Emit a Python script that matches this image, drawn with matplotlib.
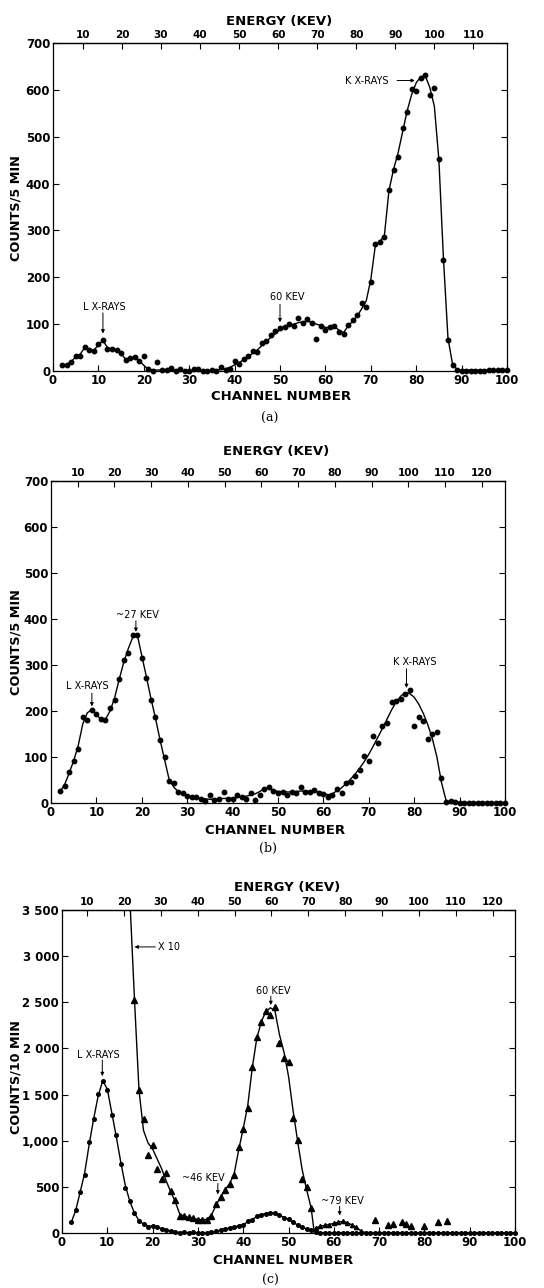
import matplotlib
matplotlib.use("Agg")
import matplotlib.pyplot as plt

plt.rcParams['font.family'] = ['DejaVu Sans']

# ---------------- data: panel (a) ----------------
channels_a = list(range(2, 101))
counts_a = [13, 13, 20, 32, 33, 52, 44, 43, 58, 66,
            46, 46, 45, 38, 23, 28, 30, 22, 31, 5,
            0, 20, 2, 3, 6, 0, 4, 0, 0, 5,
            4, 1, 1, 3, 0, 9, 3, 5, 21, 14,
            25, 33, 42, 40, 60, 63, 76, 85, 92, 94,
            101, 97, 113, 102, 111, 102, 68, 95, 88, 93,
            97, 84, 80, 98, 108, 120, 145, 136, 190, 271,
            275, 287, 387, 429, 456, 518, 553, 602, 597, 625,
            632, 590, 603, 452, 236, 66, 12, 2, 1, 1,
            1, 1, 1, 1, 2, 2, 2, 2, 2]
curve_a = [12, 14, 20, 30, 36, 50, 45, 44, 56, 65,
           50, 46, 45, 37, 25, 28, 29, 22, 12, 4,
           2, 2, 2, 2, 2, 2, 1, 0, 0, 0,
           1, 1, 1, 1, 2, 3, 5, 8, 13, 18,
           24, 31, 38, 45, 54, 63, 72, 80, 88, 93,
           97, 100, 103, 105, 106, 104, 100, 97, 93, 93,
           95, 87, 82, 96, 106, 117, 133, 150, 195, 268,
           276, 290, 385, 430, 465, 510, 555, 590, 615, 628,
           630, 605, 565, 450, 240, 70, 15, 3, 2, 2,
           2, 2, 2, 2, 2, 2, 2, 2, 2]

# ---------------- data: panel (b) ----------------
channels_b = list(range(2, 101))
counts_b = [26, 38, 67, 91, 117, 188, 180, 203, 193, 182,
            181, 207, 225, 270, 310, 326, 365, 366, 316, 272,
            225, 186, 136, 100, 48, 44, 24, 22, 16, 13,
            12, 9, 5, 17, 6, 9, 24, 8, 8, 18,
            14, 9, 22, 6, 18, 30, 35, 27, 22, 25,
            18, 25, 22, 35, 25, 23, 29, 22, 20, 14,
            18, 30, 22, 43, 45, 58, 71, 103, 91, 146,
            130, 167, 174, 219, 221, 226, 236, 245, 167, 186,
            178, 139, 150, 154, 54, 3, 4, 2, 1, 1,
            1, 0, 0, 1, 1, 0, 0, 0, 0]
curve_b = [25, 40, 65, 92, 125, 172, 196, 203, 192, 182,
           182, 200, 228, 268, 305, 335, 360, 366, 320, 275,
           228, 185, 138, 95, 52, 35, 25, 20, 16, 14,
           12, 10, 9, 8, 8, 9, 10, 10, 11, 12,
           13, 15, 17, 20, 25, 32, 33, 28, 25, 25,
           24, 24, 25, 26, 26, 26, 25, 24, 22, 18,
           20, 27, 33, 42, 52, 63, 76, 90, 106, 124,
           143, 162, 182, 202, 219, 232, 240, 238, 230, 215,
           195, 170, 140, 100, 45, 6, 2, 2, 1, 1,
           1, 1, 1, 1, 1, 1, 1, 1, 1]

# ---------------- data: panel (c) ----------------
channels_c = list(range(2, 101))
counts_c = [120, 245, 445, 630, 985, 1230, 1508, 1650, 1550, 1275,
            1058, 748, 490, 345, 222, 130, 93, 68, 75, 68,
            38, 30, 18, 10, 4, 6, 4, 6, 3, 4,
            2, 8, 18, 36, 47, 55, 65, 73, 91, 127,
            145, 182, 200, 211, 218, 215, 193, 164, 156, 116,
            84, 62, 47, 29, 7, 3, 2, 4, 2, 3,
            2, 3, 4, 2, 3, 1, 2, 2, 3, 2,
            2, 1, 2, 3, 2, 3, 2, 2, 2, 2,
            2, 2, 3, 2, 2, 2, 2, 2, 2, 2,
            2, 2, 2, 2, 2, 2, 2, 3, 3]
curve_c = [110, 240, 440, 650, 960, 1240, 1490, 1650, 1560, 1300,
           1040, 760, 510, 340, 215, 135, 95, 78, 72, 66,
           48, 32, 20, 11, 6, 4, 3, 3, 3, 3,
           4, 8, 16, 32, 45, 55, 65, 76, 93, 120,
           148, 178, 200, 212, 218, 212, 195, 168, 150, 118,
           86, 62, 45, 28, 8, 2, 2, 2, 2, 2,
           2, 2, 2, 2, 2, 2, 2, 2, 2, 2,
           2, 2, 2, 2, 2, 2, 2, 2, 2, 2,
           2, 2, 2, 2, 2, 2, 2, 2, 2, 2,
           2, 2, 2, 2, 2, 2, 2, 2, 2]

# x10 series (triangles)
x10_channels = list(range(16, 56))
x10_counts = [2530, 1545, 1240, 840, 950, 690, 580, 650, 455, 360,
              189, 189, 175, 161, 143, 143, 143, 179, 311, 393,
              470, 530, 630, 928, 1125, 1350, 1803, 2125, 2285, 2410,
              2357, 2446, 2060, 1891, 1855, 1243, 1011, 585, 500, 271]
bump_channels = list(range(56, 67))
bump_counts = [55, 72, 83, 92, 105, 118, 126, 112, 88, 62, 22]
scatter_channels = [69, 72, 73, 75, 76, 77, 80, 83, 85]
scatter_counts = [145, 91, 98, 116, 98, 73, 73, 120, 134]
x10_curve_ch = [15, 16, 17, 18, 19, 20, 21, 22, 23, 24, 25, 26, 27, 28, 29, 30,
                31, 32, 33, 34, 35, 36, 37, 38, 39, 40, 41, 42, 43, 44, 45, 46,
                47, 48, 49, 50, 51, 52, 53, 54, 55, 55.7,
                56, 57, 58, 59, 60, 61, 62, 63, 64, 65, 66, 67]
x10_curve = [3600, 2530, 1545, 1110, 975, 911, 803, 696, 565, 446, 339, 205, 180, 168, 158, 148,
             143, 148, 195, 300, 390, 470, 535, 640, 900, 1130, 1380, 1790, 2110, 2290, 2400, 2440,
             2410, 2150, 1960, 1700, 1330, 1000, 690, 470, 270, 0,
             55, 72, 83, 92, 105, 118, 126, 112, 88, 62, 22, 3]

energy_ticks_a = [10, 20, 30, 40, 50, 60, 70, 80, 90, 100, 110]
energy_ticks_bc = [10, 20, 30, 40, 50, 60, 70, 80, 90, 100, 110, 120]
chan_ticks = list(range(0, 101, 10))
yticks_ab = [0, 100, 200, 300, 400, 500, 600, 700]
yticks_c = [0, 500, 1000, 1500, 2000, 2500, 3000, 3500]
ylabels_c = ["0", "500", "1,000", "1 500", "2 000", "2 500", "3 000", "3 500"]

# ---------------- figure ----------------
W, H = 544.0, 1288.0
fig = plt.figure(figsize=(W / 100, H / 100), dpi=100)


def add_axes(l, r, t, b):
    return fig.add_axes([l / W, 1 - b / H, (r - l) / W, (b - t) / H])


def ftext(x, y, s, **kw):
    fig.text(x / W, 1 - y / H, s, **kw)


def style(ax, ymax, yticks, ylabels, off, slope, eticks):
    ax.set_xlim(0, 100)
    ax.set_ylim(0, ymax)
    ax.set_xticks(chan_ticks)
    ax.set_xticklabels([str(v) for v in chan_ticks], fontsize=8.5, fontweight='bold')
    ax.set_yticks(yticks)
    ax.set_yticklabels(ylabels, fontsize=8.5, fontweight='bold')
    ax.tick_params(axis='both', direction='in', length=4, width=0.8,
                   right=True, top=False)
    ax.tick_params(axis='x', pad=2.5)
    ax.tick_params(axis='y', pad=2)
    for sp in ax.spines.values():
        sp.set_linewidth(0.9)
    sec = ax.secondary_xaxis('top', functions=(lambda c: (c - off) / slope,
                                               lambda e: off + slope * e))
    sec.set_xticks(eticks)
    sec.set_xticklabels([str(e) for e in eticks], fontsize=7.5, fontweight='bold')
    sec.tick_params(direction='in', length=4, width=0.8, pad=2)
    sec.spines['top'].set_linewidth(0.9)


def arrow(ax, x0, y0, x1, y1):
    ax.annotate('', xy=(x1, y1), xytext=(x0, y0),
                arrowprops=dict(arrowstyle='-|>', lw=0.7, color='k',
                                mutation_scale=5, shrinkA=0, shrinkB=0))


ANN = dict(fontsize=7, ha='center', va='center')
LINE = dict(color='k', lw=1.0)
DOT = dict(ls='none', marker='o', ms=3.2, color='k', clip_on=False)

# ---- (a) ----
ax = add_axes(53, 507, 43, 371)
style(ax, 700, yticks_ab, [str(v) for v in yticks_ab], -2.0, 0.86, energy_ticks_a)
ax.plot(channels_a, curve_a, **LINE)
ax.plot(channels_a, counts_a, **DOT)
ax.text(11.2, 136, "L X-RAYS", **ANN)
arrow(ax, 11, 124, 11, 80)
ax.text(51.5, 158, "60 KEV", **ANN)
arrow(ax, 50, 142, 50, 104)
ax.text(74, 618, "K X-RAYS", fontsize=7, ha='right', va='center')
arrow(ax, 75.8, 620, 79.7, 620)
ftext(279, 22, "ENERGY (KEV)", fontsize=9.5, fontweight='bold', ha='center', va='center')
ftext(16, 208, "COUNTS/5 MIN", fontsize=9.3, fontweight='bold', rotation=90, ha='center', va='center')
ftext(281, 397, "CHANNEL NUMBER", fontsize=9.5, fontweight='bold', ha='center', va='center')
ftext(270, 418, "(a)", fontsize=9, family='DejaVu Serif', ha='center', va='center')

# ---- (b) ----
ax = add_axes(51, 505, 481, 803)
style(ax, 700, yticks_ab, [str(v) for v in yticks_ab], -2.2, 0.809, energy_ticks_bc)
ax.plot(channels_b, curve_b, **LINE)
ax.plot(channels_b, counts_b, **DOT)
ax.text(8.1, 254, "L X-RAYS", **ANN)
arrow(ax, 9, 239, 9, 210)
ax.text(19.0, 409, "~27 KEV", **ANN)
arrow(ax, 18.7, 396, 18.7, 372)
ax.text(80.1, 307, "K X-RAYS", **ANN)
arrow(ax, 78.3, 292, 78.3, 250)
ftext(276, 452, "ENERGY (KEV)", fontsize=9.5, fontweight='bold', ha='center', va='center')
ftext(16, 642, "COUNTS/5 MIN", fontsize=9.3, fontweight='bold', rotation=90, ha='center', va='center')
ftext(275, 831, "CHANNEL NUMBER", fontsize=9.5, fontweight='bold', ha='center', va='center')
ftext(268, 848, "(b)", fontsize=9, family='DejaVu Serif', ha='center', va='center')

# ---- (c) ----
ax = add_axes(62, 515, 910, 1233)
style(ax, 3500, yticks_c, ylabels_c, -2.6, 0.814, energy_ticks_bc)
ax.plot(channels_c, curve_c, **LINE)
ax.plot(channels_c, counts_c, ls='none', marker='o', ms=2.6, color='k', clip_on=False)
ax.plot(x10_curve_ch, x10_curve, **LINE)
ax.plot(x10_channels, x10_counts, ls='none', marker='^', ms=4.5, color='k', clip_on=False)
ax.plot(bump_channels, bump_counts, ls='none', marker='^', ms=3, color='k', clip_on=False)
ax.plot(scatter_channels, scatter_counts, ls='none', marker='^', ms=4.5, color='k', clip_on=False)
ax.text(8.0, 1929, "L X-RAYS", **ANN)
arrow(ax, 8.9, 1874, 8.9, 1700)
ax.text(46.6, 2625, "60 KEV", **ANN)
arrow(ax, 46.1, 2567, 46.1, 2470)
ax.text(31.1, 596, "~46 KEV", **ANN)
arrow(ax, 34.4, 537, 34.4, 418)
ax.text(62.0, 347, "~79 KEV", **ANN)
arrow(ax, 61.3, 290, 61.3, 190)
ax.text(21.3, 3100, "X 10", fontsize=7, ha='left', va='center')
arrow(ax, 20.6, 3100, 16.0, 3100)
ftext(287, 888, "ENERGY (KEV)", fontsize=9.5, fontweight='bold', ha='center', va='center')
ftext(16, 1077, "COUNTS/10 MIN", fontsize=9.2, fontweight='bold', rotation=90, ha='center', va='center')
ftext(283, 1261, "CHANNEL NUMBER", fontsize=9.5, fontweight='bold', ha='center', va='center')
ftext(270, 1280, "(c)", fontsize=9, family='DejaVu Serif', ha='center', va='center')

fig.savefig("out.png", dpi=100)
